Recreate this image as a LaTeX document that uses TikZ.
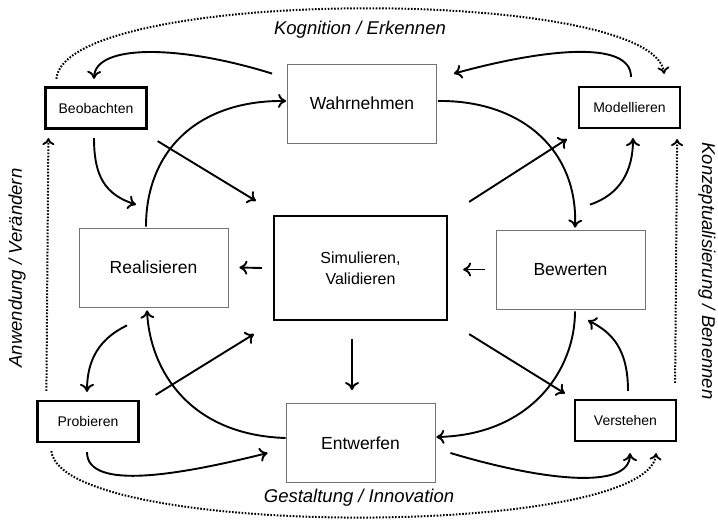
\documentclass[tikz,border=0pt]{standalone}
\usepackage{fontspec}
\setmainfont{Liberation Sans}
\usetikzlibrary{arrows.meta}
\begin{document}
\begin{tikzpicture}[x=1pt,y=-1pt,
  every node/.style={inner sep=0pt, align=center},
  phase/.style={draw=black!55, line width=0.8pt, minimum width=149pt, minimum height=79pt,
    font=\fontsize{17.5}{20}\selectfont},
  core/.style={draw=black, line width=2.2pt, minimum width=173pt, minimum height=104pt,
    font=\fontsize{16}{21}\selectfont},
  activity/.style={draw=black, line width=2.2pt, minimum width=101pt, minimum height=41pt,
    font=\fontsize{14}{16}\selectfont},
  axis/.style={font=\fontsize{18.5}{20}\selectfont\itshape},
  flow/.style={line width=1.9pt, -{Computer Modern Rightarrow[length=8pt,width=14pt,line width=1.9pt]}},
  cycle/.style={line width=2pt, dash pattern=on 1.6pt off 1.6pt,
    -{Computer Modern Rightarrow[length=7pt,width=12pt,line width=1.8pt]}}]
\useasboundingbox (0,0) rectangle (718,521);

% process steps
\node[phase]    (wahr) at (362,103.5) {Wahrnehmen};
\node[phase]    (real) at (153.5,267.5) {Realisieren};
\node[phase]    (bew)  at (570.5,269.5) {Bewerten};
\node[phase]    (entw) at (360.5,443) {Entwerfen};
\node[core]     (sim)  at (360.5,268) {Simulieren,\\Validieren};
\node[activity] (beo)  at (96,108) {Beobachten};
\node[activity] (mod)  at (629.5,107.5) {Modellieren};
\node[activity] (prob) at (88,421.5) {Probieren};
\node[activity] (vers) at (625.5,420.5) {Verstehen};

% axis labels
\node[axis] (kog)  at (360,30) {Kognition / Erkennen};
\node[axis] (ges)  at (359,498) {Gestaltung / Innovation};
\node[axis, rotate=90]  (anw)  at (17,268) {Anwendung / Verändern};
\node[axis, rotate=-90] (konz) at (707,271) {Konzeptualisierung / Benennen};

% outer dotted cycle
\draw[cycle] ([shift={(12,-7.5)}]beo.north west) .. controls +(8,-93) and +(-10,-88) .. ([shift={(-17,-12)}]mod.north east);
\draw[cycle] ([shift={(-2,-16)}]vers.north east) -- ([shift={(-4,10)}]mod.south east);
\draw[cycle] ([shift={(15,8)}]prob.south west) .. controls +(10,88) and +(-8,86) .. ([shift={(-21,11)}]vers.south east);
\draw[cycle] ([shift={(10,-9)}]prob.north west) -- ([shift={(4,8.5)}]beo.south west);

% curved transitions
\draw[flow] ([shift={(-15,10)}]wahr.north west) .. controls +(-93,-29) and +(1,-35) .. ([shift={(-2,-7.5)}]beo.north);
\draw[flow] ([shift={(1.5,-9)}]mod.north) .. controls +(0,-38) and +(87,-24) .. ([shift={(17,10)}]wahr.north east);
\draw[flow] ([shift={(-7.5,-1)}]real.north) .. controls +(0,-77) and +(-87,-1) .. ([shift={(-1,-2.5)}]wahr.west);
\draw[flow] ([shift={(1,-2.5)}]wahr.east) .. controls +(83,-1) and +(3,-78) .. ([shift={(4.5,-2)}]bew.north);
\draw[flow] ([shift={(-2,8.5)}]beo.south) .. controls +(0,38) and +(-31,-10) .. ([shift={(-17.5,-23)}]real.north);
\draw[flow] ([shift={(19.5,-25)}]bew.north) .. controls +(30,-10) and +(0,33) .. ([shift={(3.5,9)}]mod.south);
\draw[flow] ([shift={(-26.5,18)}]real.south) .. controls +(-27,13) and +(0,-33) .. ([shift={(-1,-8)}]prob.north);
\draw[flow] ([shift={(0,-5)}]entw.west) .. controls +(-96,-3) and +(3,60) .. ([shift={(-6.5,3)}]real.south);
\draw[flow] ([shift={(4.5,2)}]bew.south) .. controls +(0,59) and +(94,-2) .. ([shift={(1,-6)}]entw.east);
\draw[flow] ([shift={(2.5,-8)}]vers.north) .. controls +(0,-42) and +(24,12) .. ([shift={(17.5,11)}]bew.south);
\draw[flow] ([shift={(-1,9)}]prob.south) .. controls +(0,39) and +(-88,22) .. ([shift={(-18,10)}]entw.west);
\draw[flow] ([shift={(15,10)}]entw.east) .. controls +(90,27) and +(0,38) .. ([shift={(4.5,11)}]vers.south);

% straight links through the core
\draw[flow] ([shift={(10,11.5)}]beo.south east) -- ([shift={(-17,-14)}]sim.north west);
\draw[flow] ([shift={(21,-13)}]sim.north east) -- ([shift={(-11,10)}]mod.south west);
\draw[flow] ([shift={(-11,0)}]sim.west) -- ([shift={(11,0)}]real.east);
\draw[flow] ([shift={(-11,0)}]bew.west) -- ([shift={(15,1.5)}]sim.east);
\draw[flow] ([shift={(-8.5,18)}]sim.south) -- ([shift={(-8.5,-13)}]entw.north);
\draw[flow] ([shift={(16,-5)}]prob.north east) -- ([shift={(-19,13)}]sim.south west);
\draw[flow] ([shift={(21,13)}]sim.south east) -- ([shift={(-9,-27)}]vers.west);
\end{tikzpicture}
\end{document}
